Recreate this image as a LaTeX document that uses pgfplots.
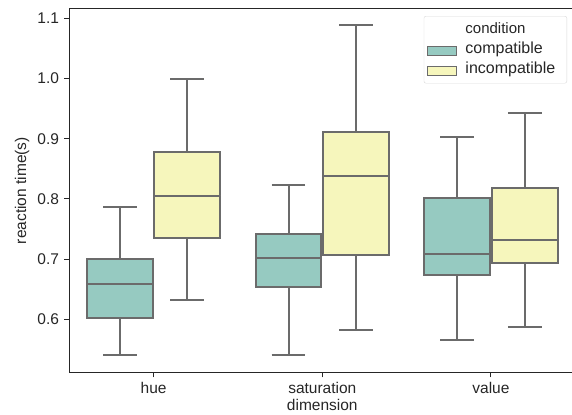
\documentclass[border=0pt]{standalone}
\usepackage{pgfplots}
\pgfplotsset{compat=1.18}
\usepgfplotslibrary{statistics}
\usepackage{fontspec}
\setmainfont{Liberation Sans}
\definecolor{cA}{HTML}{96CAC1}
\definecolor{cB}{HTML}{F6F6BC}
\definecolor{lg}{HTML}{6B6B6B}
\definecolor{ax}{HTML}{262626}
\begin{document}
\fontsize{15.5bp}{18bp}\selectfont
\begin{tikzpicture}
\begin{axis}[
  scale only axis, width=506bp, height=363.3bp,
  xmin=-0.5, xmax=2.5, ymin=0.512, ymax=1.1155,
  xtick={0,1,2}, xticklabels={hue,saturation,value},
  ytick={0.6,0.7,0.8,0.9,1.0,1.1},
  yticklabel style={/pgf/number format/fixed, /pgf/number format/fixed zerofill, /pgf/number format/precision=1},
  /pgf/number format/assume math mode=true,
  tick align=outside, tick pos=left, major tick length=5bp,
  tick style={ax, line width=1bp},
  axis line style={ax, line width=1bp},
  ticklabel style={text=ax, font=\fontsize{15.5bp}{18bp}\selectfont},
  label style={text=ax, font=\fontsize{15.5bp}{18bp}\selectfont},
  xlabel=dimension, ylabel={reaction time(s)},
  xlabel style={at={(axis description cs:0.5,0)}, anchor=center, yshift=-33bp},
  ylabel style={at={(axis description cs:0,0.5)}, anchor=center, yshift=47.3bp},
  boxplot/draw direction=y,
  boxplot/box extend=0.39, boxplot/whisker extend=0.2,
  every axis plot/.append style={line width=2bp, draw=lg, solid},
  legend image code/.code={\draw[#1, line width=1bp, sharp corners] (0bp,-5.5bp) rectangle (29bp,3.2bp);},
  legend style={at={(0.9836,0.9807)}, anchor=north east, draw=black!15, rounded corners=2bp, fill=white,
    font=\fontsize{16bp}{19bp}\selectfont, text=ax, inner xsep=3bp, inner ysep=3.5bp, row sep=0bp,
    nodes={inner ysep=2bp, inner xsep=8.5bp, text height=12bp, text depth=4bp}},
  legend cell align=left,
]
\addplot[boxplot prepared={draw position=-0.2, lower whisker=0.541, lower quartile=0.6026, median=0.658, upper quartile=0.700, upper whisker=0.7866}, fill=cA, forget plot] coordinates {};
\addplot[boxplot prepared={draw position=0.2, lower whisker=0.632, lower quartile=0.735, median=0.805, upper quartile=0.878, upper whisker=0.9987}, fill=cB, forget plot] coordinates {};
\addplot[boxplot prepared={draw position=0.8, lower whisker=0.541, lower quartile=0.6537, median=0.7023, upper quartile=0.7417, upper whisker=0.823}, fill=cA, forget plot] coordinates {};
\addplot[boxplot prepared={draw position=1.2, lower whisker=0.5818, lower quartile=0.707, median=0.838, upper quartile=0.9117, upper whisker=1.0889}, fill=cB, forget plot] coordinates {};
\addplot[boxplot prepared={draw position=1.8, lower whisker=0.5656, lower quartile=0.6736, median=0.7085, upper quartile=0.801, upper whisker=0.9023}, fill=cA, forget plot] coordinates {};
\addplot[boxplot prepared={draw position=2.2, lower whisker=0.5877, lower quartile=0.694, median=0.7317, upper quartile=0.8176, upper whisker=0.943}, fill=cB, forget plot] coordinates {};
\addlegendimage{empty legend}
\addlegendentry{\fontsize{15bp}{18bp}\selectfont condition}
\addlegendimage{draw=lg, fill=cA}
\addlegendentry{compatible}
\addlegendimage{draw=lg, fill=cB}
\addlegendentry{incompatible}
\end{axis}
\pgfresetboundingbox
\path[use as bounding box] ([xshift=-69.3bp, yshift=-42.7bp]current axis.south west) rectangle ++(572bp,415bp);
\end{tikzpicture}
\end{document}
